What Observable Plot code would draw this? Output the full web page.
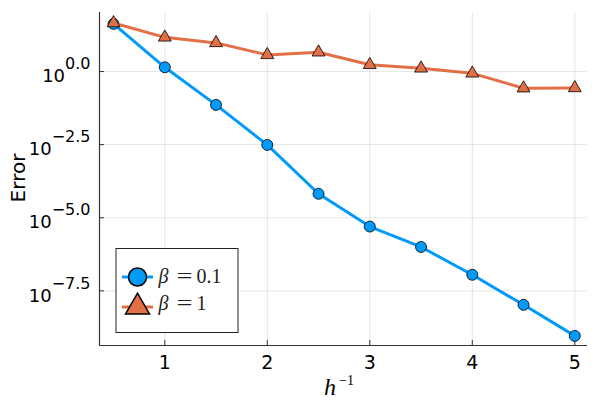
<!DOCTYPE html>
<html><head><meta charset="utf-8">
<script src="https://cdn.jsdelivr.net/npm/d3@7"></script>
<script src="https://cdn.jsdelivr.net/npm/@observablehq/plot@0.6"></script>
<style>body{margin:0;background:#fff;} #chart{width:600px;height:400px;}</style>
</head><body><div id="chart"></div>
<script>
// Data
const hInv = [0.5, 1, 1.5, 2, 2.5, 3, 3.5, 4, 4.5, 5];
const errBeta01 = [42.7, 1.40, 0.0724, 0.00309, 6.6e-5, 5.0e-6, 1.0e-6, 1.12e-7, 1.05e-8, 9.1e-10];
const errBeta1 = [45.7, 14.8, 9.55, 3.72, 4.57, 1.70, 1.29, 0.87, 0.269, 0.275];
const seriesNames = ["β = 0.1", "β = 1"];
const xTicks = [1, 2, 3, 4, 5];
const yTicks = [1, 10 ** -2.5, 1e-5, 10 ** -7.5];
const yTickExponents = ["0.0", "−2.5", "−5.0", "−7.5"];
const xDomain = [0.363, 5.124];
const yDomain = [10 ** -9.37, 10 ** 2.02];
const colors = ["#009AFA", "#E26F46"];

const s0 = hInv.map((x, i) => ({x, y: errBeta01[i], s: seriesNames[0]}));
const s1 = hInv.map((x, i) => ({x, y: errBeta1[i], s: seriesNames[1]}));

const svg = Plot.plot({
  width: 600, height: 400,
  marginLeft: 99, marginRight: 13, marginTop: 12, marginBottom: 55,
  style: {fontFamily: "DejaVu Sans", fontSize: "18px", background: "#fff", color: "#000"},
  x: {domain: xDomain, label: null},
  y: {type: "log", domain: yDomain, label: null},
  marks: [
    Plot.gridX(xTicks, {stroke: "#000", strokeOpacity: 0.1, strokeWidth: 1}),
    Plot.gridY(yTicks, {stroke: "#000", strokeOpacity: 0.1, strokeWidth: 1}),
    Plot.axisX(xTicks, {tickSize: -5, tickPadding: 16, label: null, stroke: "#333"}),
    Plot.axisY(yTicks, {tickSize: -5, tickPadding: 14, label: null, stroke: "#333",
      tickFormat: d => yTickExponents[yTicks.indexOf(d)]}),
    Plot.ruleX([xDomain[0]], {stroke: "#333", strokeWidth: 1.2}),
    Plot.ruleY([yDomain[0]], {stroke: "#333", strokeWidth: 1.2}),
    Plot.line(s0, {x: "x", y: "y", stroke: colors[0], strokeWidth: 3}),
    Plot.dot(s0, {x: "x", y: "y", r: 5.5, symbol: "circle", fill: colors[0], stroke: "#000", strokeWidth: 0.8}),
    Plot.line(s1, {x: "x", y: "y", stroke: colors[1], strokeWidth: 3}),
    Plot.dot(s1, {x: "x", y: "y", r: 4.8, symbol: "triangle", fill: colors[1], stroke: "#000", strokeWidth: 0.8})
  ]
});
document.getElementById("chart").appendChild(svg);

const root = d3.select(svg);
root.selectAll('g[aria-label="x-axis tick label"], g[aria-label="y-axis tick label"]')
  .attr("font-size", null).style("font-family", "DejaVu Sans").style("font-weight", "normal");
// x tick labels at 19px
root.selectAll('g[aria-label="x-axis tick label"] text').each(function() {
  const t = d3.select(this);
  const s = t.text();
  t.text("");
  t.append("tspan").attr("font-size", 19).style("font-size", "19px", "important").text(s);
});
// Superscript tick labels: 10^{exp}
root.selectAll('g[aria-label="y-axis tick label"] text').each(function() {
  const t = d3.select(this);
  const exp = t.text();
  t.text("");
  t.attr("y", 0).attr("dy", 10.7);
  t.append("tspan").attr("font-size", 18).style("font-size", "18px", "important").text("10");
  t.append("tspan").attr("dy", -13).attr("font-size", 16).style("font-size", "16px", "important").text(exp);
});

// Axis titles
root.append("text")
  .attr("transform", "translate(25,178) rotate(-90)")
  .attr("text-anchor", "middle")
  .style("font-family", "DejaVu Sans").style("font-size", "20px")
  .text("Error");
const xl = root.append("text")
  .attr("x", 324).attr("y", 395)
  .attr("text-anchor", "start")
  .style("font-family", "Liberation Serif").style("font-size", "24px");
xl.append("tspan").attr("font-style", "italic").text("h");
xl.append("tspan").attr("x", 339).attr("y", 385).style("font-size", "14px").text("−1");

// Legend
const lg = root.append("g");
lg.append("rect").attr("x", 116).attr("y", 248.5).attr("width", 122).attr("height", 84)
  .attr("fill", "#fff").attr("stroke", "#222").attr("stroke-width", 1);
const entries = [{name: seriesNames[0], color: colors[0], sym: d3.symbolCircle, size: Math.PI * 9 * 9, cy: 277, base: 283.3},
                 {name: seriesNames[1], color: colors[1], sym: d3.symbolTriangle, size: 250, cy: 307, base: 310.3}];
entries.forEach(e => {
  lg.append("line").attr("x1", 122).attr("x2", 153).attr("y1", e.cy).attr("y2", e.cy)
    .attr("stroke", e.color).attr("stroke-width", 3);
  lg.append("path").attr("d", d3.symbol(e.sym, e.size)())
    .attr("transform", `translate(137.5,${e.cy})`)
    .attr("fill", e.color).attr("stroke", "#000").attr("stroke-width", 1.5);
  const [b, rest] = e.name.split(" = ");
  const t = lg.append("text").attr("y", e.base)
    .attr("text-anchor", "start")
    .style("font-family", "Liberation Serif").style("font-size", "20px").attr("fill", "#222");
  t.append("tspan").attr("x", 158.5).attr("font-style", "italic").text(b);
  t.append("tspan").attr("x", 176.5).attr("textLength", 16).attr("lengthAdjust", "spacingAndGlyphs").text("=");
  t.append("tspan").attr("x", 196.5).text(rest);
});
</script>
</body></html>
